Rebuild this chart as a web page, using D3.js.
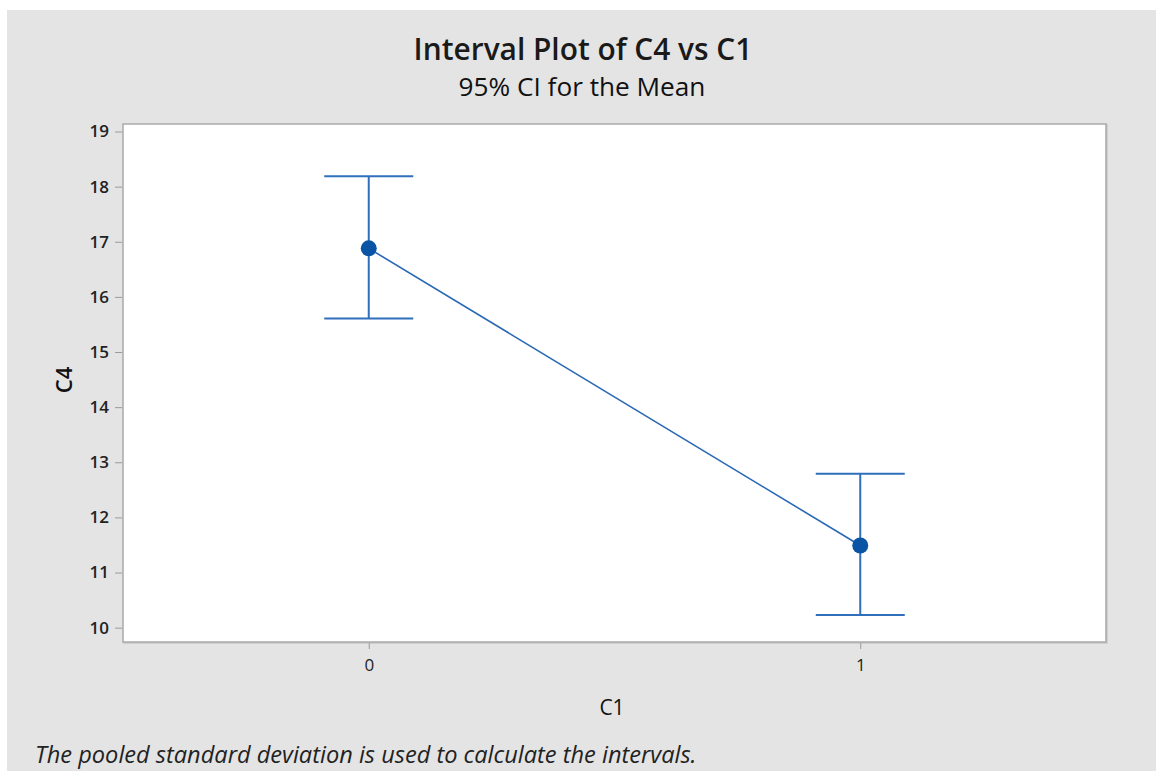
<!DOCTYPE html>
<html><head><meta charset="utf-8">
<script src="https://cdn.jsdelivr.net/npm/d3@7"></script>
<style>
html,body{margin:0;padding:0;background:#fff;}
svg{display:block;}
text{font-family:"Open Sans","Noto Sans",sans-serif;}
</style></head>
<body>
<script>
// ---- data ----
const categories = ["0", "1"];
const means = [16.88, 11.49];
const lowerCI = [15.61, 10.23];
const upperCI = [18.19, 12.79];
const yTicks = [10, 11, 12, 13, 14, 15, 16, 17, 18, 19];
const xTicks = [0, 1];
const titleText = "Interval Plot of C4 vs C1";
const subtitleText = "95% CI for the Mean";
const xLabel = "C1";
const yLabel = "C4";
const footnote = "The pooled standard deviation is used to calculate the intervals.";

const W = 1156, H = 771;
const svg = d3.select("body").append("svg").attr("width", W).attr("height", H);

svg.append("rect").attr("x", 7).attr("y", 10).attr("width", W - 7).attr("height", H - 10).attr("fill", "#e4e4e4");

const plot = {left: 123, top: 124, right: 1106, bottom: 642};

const x = d3.scaleLinear().domain([-0.5, 1.5]).range([plot.left, plot.right]);
const y = d3.scaleLinear().domain([9.74, 19.136]).range([plot.bottom, plot.top]);

svg.append("rect").attr("x", plot.left + 1).attr("y", plot.top + 1)
  .attr("width", plot.right - plot.left).attr("height", plot.bottom - plot.top)
  .attr("fill", "none").attr("stroke", "#cfcfcf").attr("stroke-width", 2);
svg.append("rect").attr("x", plot.left).attr("y", plot.top)
  .attr("width", plot.right - plot.left).attr("height", plot.bottom - plot.top)
  .attr("fill", "#fff").attr("stroke", "#a9a9a9").attr("stroke-width", 1.5);

const yAxis = svg.append("g").attr("transform", `translate(${plot.left - 1},0)`)
  .call(d3.axisLeft(y).tickValues(yTicks).tickSize(7).tickPadding(6).tickFormat(d3.format("d")));
yAxis.attr("font-size", null).attr("font-family", null);
yAxis.select(".domain").remove();
yAxis.selectAll(".tick line").attr("stroke", "#9a9a9a");
yAxis.selectAll(".tick text").attr("fill", "#222")
  .style("font-size", "17px").style("font-weight", "600")
  .style("font-family", "'Open Sans',sans-serif");

const xAxis = svg.append("g").attr("transform", `translate(0,${plot.bottom + 1})`)
  .call(d3.axisBottom(x).tickValues(xTicks).tickSize(6).tickPadding(10).tickFormat((d, i) => categories[i]));
xAxis.attr("font-size", null).attr("font-family", null);
xAxis.select(".domain").remove();
xAxis.selectAll(".tick line").attr("stroke", "#9a9a9a");
xAxis.selectAll(".tick text").attr("fill", "#222")
  .style("font-size", "17px").style("font-weight", "400")
  .style("font-family", "'Open Sans',sans-serif");

const data = categories.map((c, i) => ({c: +c, m: means[i], lo: lowerCI[i], hi: upperCI[i]}));
const blue = "#2f6fbc";
const capHalf = 44.5;

svg.append("path").datum(data)
  .attr("d", d3.line().x(d => x(d.c)).y(d => y(d.m)))
  .attr("fill", "none").attr("stroke", "#2a68b4").attr("stroke-width", 1.6);

const g = svg.selectAll(".ci").data(data).join("g");
g.append("line").attr("x1", d => x(d.c)).attr("x2", d => x(d.c))
  .attr("y1", d => y(d.lo)).attr("y2", d => y(d.hi)).attr("stroke", blue).attr("stroke-width", 2);
g.append("line").attr("x1", d => x(d.c) - capHalf).attr("x2", d => x(d.c) + capHalf)
  .attr("y1", d => y(d.hi)).attr("y2", d => y(d.hi)).attr("stroke", blue).attr("stroke-width", 2);
g.append("line").attr("x1", d => x(d.c) - capHalf).attr("x2", d => x(d.c) + capHalf)
  .attr("y1", d => y(d.lo)).attr("y2", d => y(d.lo)).attr("stroke", blue).attr("stroke-width", 2);
g.append("circle").attr("cx", d => x(d.c)).attr("cy", d => y(d.m)).attr("r", 8).attr("fill", "#0a54a6");

function fitText(sel, target) {
  const w = sel.node().getComputedTextLength();
  const fs = parseFloat(sel.style("font-size"));
  sel.style("font-size", (fs * target / w) + "px");
}

const t = svg.append("text").attr("x", 583).attr("y", 60).attr("text-anchor", "middle")
  .style("font-size", "26px").style("font-weight", "600").attr("fill", "#1a1a1a").text(titleText);
fitText(t, 339);
const st = svg.append("text").attr("x", 582).attr("y", 96).attr("text-anchor", "middle")
  .style("font-size", "19px").style("font-weight", "500").attr("fill", "#111").text(subtitleText);
fitText(st, 247);

svg.append("text").attr("x", 612).attr("y", 715).attr("text-anchor", "middle")
  .style("font-size", "21px").style("font-weight", "500").attr("fill", "#111").text(xLabel);
svg.append("text").attr("transform", "translate(72,380) rotate(-90)").attr("text-anchor", "middle")
  .style("font-size", "22px").style("font-weight", "600").attr("fill", "#111").text(yLabel);

const fn = svg.append("text").attr("x", 35).attr("y", 763).attr("font-style", "italic")
  .style("font-size", "18px").attr("fill", "#222").text(footnote);
fitText(fn, 662);
</script>
</body></html>
